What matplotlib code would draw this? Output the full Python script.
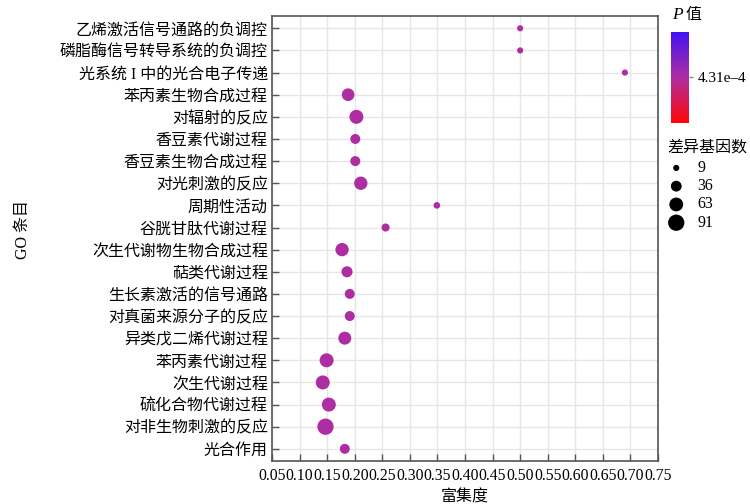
import numpy as np
import matplotlib
matplotlib.use("Agg")
import matplotlib.pyplot as plt
from matplotlib.colors import LinearSegmentedColormap, Normalize

plt.rcParams['font.family'] = ['Liberation Serif', 'Noto Sans CJK SC']
plt.rcParams['axes.unicode_minus'] = False

# GO terms, top to bottom as displayed
terms = [
    "乙烯激活信号通路的负调控",
    "磷脂酶信号转导系统的负调控",
    "光系统 I 中的光合电子传递",
    "苯丙素生物合成过程",
    "对辐射的反应",
    "香豆素代谢过程",
    "香豆素生物合成过程",
    "对光刺激的反应",
    "周期性活动",
    "谷胱甘肽代谢过程",
    "次生代谢物生物合成过程",
    "萜类代谢过程",
    "生长素激活的信号通路",
    "对真菌来源分子的反应",
    "异类戊二烯代谢过程",
    "苯丙素代谢过程",
    "次生代谢过程",
    "硫化合物代谢过程",
    "对非生物刺激的反应",
    "光合作用",
]
rich_factor = [0.50, 0.50, 0.69, 0.188, 0.203, 0.201, 0.201, 0.211, 0.349, 0.256,
               0.177, 0.186, 0.191, 0.191, 0.182, 0.149, 0.142, 0.153, 0.147, 0.182]
gene_count = [9, 9, 9, 52, 65, 30, 30, 58, 11, 18,
              58, 38, 30, 30, 55, 65, 65, 65, 91, 30]
p_value = [4.31e-4] * len(terms)

legend_counts = [9, 36, 63, 91]
pvalue_tick = 4.31e-4
x_ticks = np.round(np.arange(0.05, 0.751, 0.05), 2)

cmap = LinearSegmentedColormap.from_list(
    "p_grad", [(0.0, "#FF0505"), (0.5, "#AE2DA2"), (1.0, "#4212F2")])
norm = Normalize(vmin=pvalue_tick - 3e-6, vmax=pvalue_tick + 3e-6)


def marker_area(n):
    # marker diameter grows with sqrt(count); convert pixels to points at 100 dpi
    d_px = 1.5 + 1.55 * np.sqrt(np.asarray(n, dtype=float))
    return (d_px * 0.72) ** 2


fig = plt.figure(figsize=(7.5, 5.04), dpi=100)
ax = fig.add_axes([0.3627, 0.0853, 0.5146, 0.8827])

ypos = np.arange(len(terms))[::-1]
ax.scatter(rich_factor, ypos, s=marker_area(gene_count), c=p_value,
           cmap=cmap, norm=norm, edgecolors='none', zorder=3)

ax.set_xlim(0.05, 0.75)
ax.set_ylim(-0.55, len(terms) - 0.45)
ax.set_xticks(x_ticks)
ax.set_xticklabels([f"{v:.2f}" for v in x_ticks], fontsize=11.3)
ax.set_yticks(ypos)
ax.set_yticklabels(terms, fontsize=11.5)
ax.tick_params(direction='in', length=5, width=1, color='#555555', pad=3)
ax.tick_params(axis='x', pad=5)
ax.grid(True, color='#E6E6E6', linewidth=1, zorder=0)
ax.set_axisbelow(True)
for sp in ax.spines.values():
    sp.set_color('#555555')
    sp.set_linewidth(1.2)

ax.set_xlabel("富集度", fontsize=11.5, labelpad=4)
ax.set_ylabel("GO 条目", fontsize=11.5)
ax.yaxis.set_label_coords(-0.624, 0.52)

# colour bar for P value
cax = fig.add_axes([0.8947, 0.756, 0.024, 0.1806])
sm = matplotlib.cm.ScalarMappable(norm=norm, cmap=cmap)
cb = fig.colorbar(sm, cax=cax, ticks=[pvalue_tick])
cb.ax.set_yticklabels(["4.31e\u20134"], fontsize=11)
cb.ax.tick_params(length=3, color='#888888', width=1)
cb.outline.set_visible(False)
fig.text(0.896, 0.97, "P", fontsize=12.5, family='Liberation Serif',
         style='italic', va='center')
fig.text(0.914, 0.97, "值", fontsize=11.5, va='center')

# size legend
fig.text(0.890, 0.708, "差异基因数", fontsize=11.5, va='center')
lax = fig.add_axes([0.885, 0.54, 0.1, 0.145])
ly = np.arange(len(legend_counts))[::-1]
lax.scatter([0] * len(legend_counts), ly, s=marker_area(legend_counts),
            color='black', edgecolors='none')
for yy, n in zip(ly, legend_counts):
    lax.text(1.35, yy, str(n), fontsize=11.5, va='center', ha='left')
lax.set_xlim(-0.8, 4)
lax.set_ylim(-0.5, len(legend_counts) - 0.5)
lax.axis('off')

fig.savefig("out.png", dpi=100)
